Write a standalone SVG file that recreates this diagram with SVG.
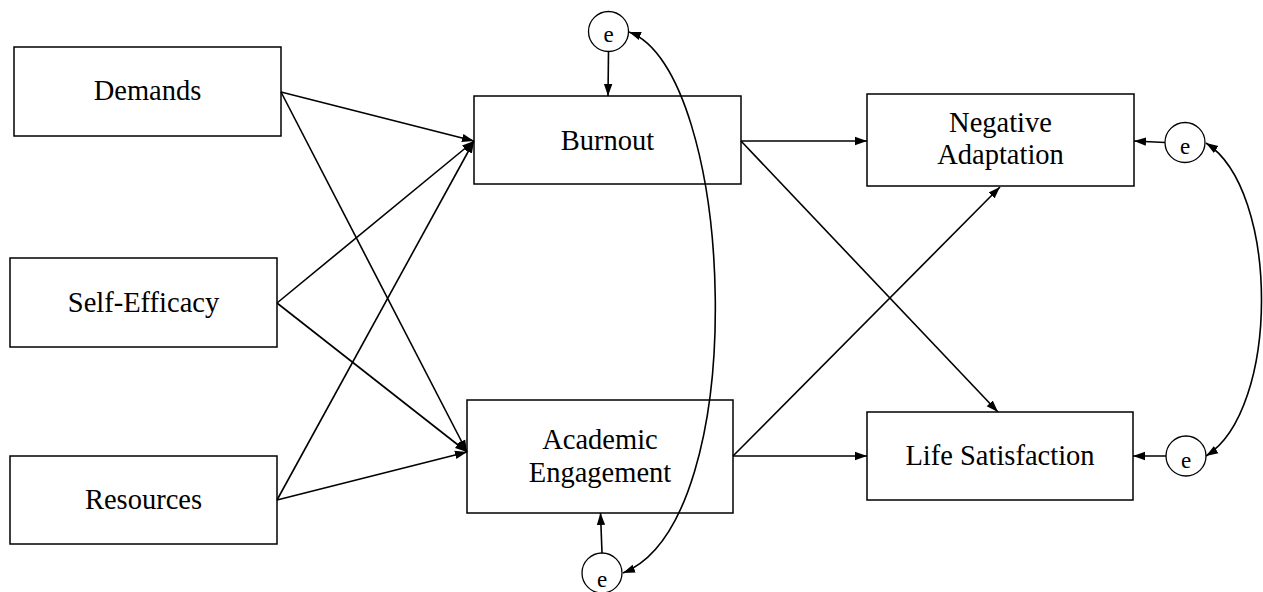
<svg xmlns="http://www.w3.org/2000/svg" width="1263" height="592" viewBox="0 0 1263 592">
<style>
.box{fill:#fff;stroke:#000;stroke-width:1.5}
.lbl{font-family:"Liberation Serif","Times New Roman",serif;font-size:28.5px;text-anchor:middle;fill:#000}
.err{fill:#fff;stroke:#000;stroke-width:1.3}
.el{font-family:"Liberation Serif","Times New Roman",serif;font-size:23px;text-anchor:middle;fill:#000}
.c{fill:none;stroke:#000;stroke-width:1.6}
</style>
<defs>
<marker id="ah" markerUnits="userSpaceOnUse" markerWidth="12" markerHeight="10" viewBox="0 0 12 10" refX="12" refY="5" orient="auto-start-reverse">
<path d="M0,0.8 L12,5 L0,9.2 Z" fill="#000"/>
</marker>
</defs>
<g id="demands"><rect class="box" x="14" y="47" width="267" height="89"/><text class="lbl" x="147.5" y="100">Demands</text></g>
<g id="self-efficacy"><rect class="box" x="10" y="258" width="267" height="89"/><text class="lbl" x="143.5" y="312">Self-Efficacy</text></g>
<g id="resources"><rect class="box" x="10" y="456" width="267" height="88"/><text class="lbl" x="143.5" y="509">Resources</text></g>
<g id="burnout"><rect class="box" x="474" y="96" width="267" height="88"/><text class="lbl" x="607.5" y="150">Burnout</text></g>
<g id="academic-engagement"><rect class="box" x="467" y="400" width="266" height="113"/><text class="lbl" x="600" y="449">Academic</text><text class="lbl" x="600" y="482">Engagement</text></g>
<g id="negative-adaptation"><rect class="box" x="867" y="94" width="267" height="92"/><text class="lbl" x="1000.5" y="132">Negative</text><text class="lbl" x="1000.5" y="164">Adaptation</text></g>
<g id="life-satisfaction"><rect class="box" x="867" y="412" width="266" height="88"/><text class="lbl" x="1000" y="465">Life Satisfaction</text></g>
<g id="e-burnout"><circle class="err" cx="608.5" cy="31.5" r="20"/><text class="el" x="608.5" y="42">e</text></g>
<g id="e-engagement"><circle class="err" cx="602" cy="573" r="20"/><text class="el" x="602" y="587">e</text></g>
<g id="e-negative"><circle class="err" cx="1185" cy="142.5" r="20"/><text class="el" x="1185" y="154">e</text></g>
<g id="e-life"><circle class="err" cx="1186" cy="456" r="20"/><text class="el" x="1186" y="468">e</text></g>
<g id="connectors">
<line class="c" x1="281" y1="92" x2="474" y2="141" marker-end="url(#ah)"/>
<line class="c" x1="281" y1="92" x2="467" y2="452" marker-end="url(#ah)"/>
<line class="c" x1="277" y1="303" x2="474" y2="141" marker-end="url(#ah)"/>
<line class="c" x1="277" y1="303" x2="467" y2="452" marker-end="url(#ah)"/>
<line class="c" x1="277" y1="500" x2="474" y2="141" marker-end="url(#ah)"/>
<line class="c" x1="277" y1="500" x2="467" y2="452" marker-end="url(#ah)"/>
<line class="c" x1="741" y1="141" x2="867" y2="141" marker-end="url(#ah)"/>
<line class="c" x1="741" y1="141" x2="998" y2="412" marker-end="url(#ah)"/>
<line class="c" x1="733" y1="456" x2="1000" y2="187" marker-end="url(#ah)"/>
<line class="c" x1="733" y1="456" x2="867" y2="456" marker-end="url(#ah)"/>
<line class="c" x1="608.5" y1="51.5" x2="608" y2="96" marker-end="url(#ah)"/>
<line class="c" x1="602" y1="553" x2="600.5" y2="513" marker-end="url(#ah)"/>
<line class="c" x1="1165" y1="142.5" x2="1134" y2="141" marker-end="url(#ah)"/>
<line class="c" x1="1166" y1="456" x2="1133" y2="456" marker-end="url(#ah)"/>
<path class="c" d="M629,32 C735,70 755,520 623,573" marker-start="url(#ah)" marker-end="url(#ah)"/>
<path class="c" d="M1206,143 C1280,190 1280,410 1206,456" marker-start="url(#ah)" marker-end="url(#ah)"/>
</g>
</svg>
